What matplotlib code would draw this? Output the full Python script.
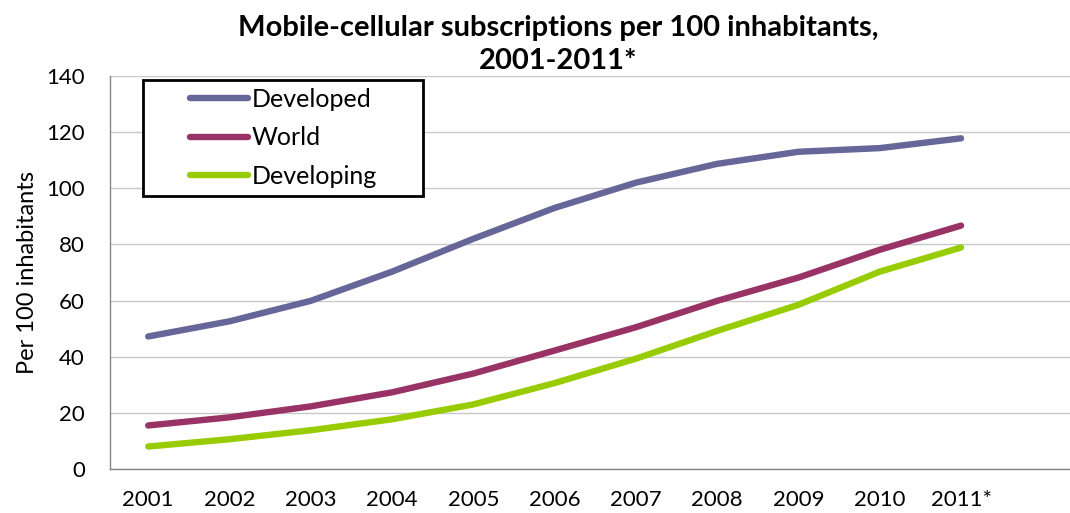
import matplotlib.pyplot as plt
from matplotlib.patches import Rectangle

plt.rcParams['font.family'] = ['Lato', 'DejaVu Sans']

# Mobile-cellular subscriptions per 100 inhabitants
years = ["2001", "2002", "2003", "2004", "2005", "2006",
         "2007", "2008", "2009", "2010", "2011*"]
developed = [47.2, 52.6, 59.9, 70.3, 82.0, 93.0, 102.0, 108.7, 113.0, 114.3, 117.8]
world = [15.5, 18.4, 22.3, 27.3, 34.0, 42.2, 50.5, 59.9, 68.2, 78.1, 86.7]
developing = [8.0, 10.6, 13.8, 17.7, 23.0, 30.6, 39.3, 49.2, 58.5, 70.3, 78.9]

series = [("Developed", developed, "#666699"),
          ("World", world, "#993366"),
          ("Developing", developing, "#99cc00")]

fig = plt.figure(figsize=(10.7, 5.13), dpi=100)
ax = fig.add_axes([0.1028, 0.0858, 0.8972, 0.7661])

x = list(range(len(years)))
lines = []
for name, vals, col in series:
    ln, = ax.plot(x, vals, color=col, lw=4.6, solid_capstyle="round", label=name)
    lines.append(ln)

ax.set_xlim(-0.47, 11.34)
ax.set_ylim(0, 140)
ax.set_yticks(range(0, 141, 20))
ax.set_xticks(x)
ax.set_xticklabels(years)
ax.tick_params(axis="both", length=0, labelsize=16)
ax.tick_params(axis="x", pad=15)
ax.tick_params(axis="y", pad=18)
ax.grid(axis="y", color="#c8c8c8", lw=1)
ax.set_axisbelow(True)
for side in ("top", "right"):
    ax.spines[side].set_visible(False)
for side in ("left", "bottom"):
    ax.spines[side].set_color("#868686")
    ax.spines[side].set_linewidth(1)

ax.set_ylabel("Per 100 inhabitants", fontsize=17, labelpad=6)

fig.text(0.522, 0.97, "Mobile-cellular subscriptions per 100 inhabitants,\n2001-2011*",
         ha="center", va="top", fontsize=21, fontweight="bold", linespacing=1.3)

# legend box with its entries indented like the spreadsheet chart
box = Rectangle((143 / 1070, 1 - 196 / 513), 280 / 1070, 116 / 513,
                transform=fig.transFigure, facecolor="white", edgecolor="black",
                lw=2, zorder=4)
fig.add_artist(box)
leg = fig.legend(handles=lines, loc="center left", bbox_to_anchor=(190 / 1070, 0.731),
                 fontsize=18, handlelength=2.32, handletextpad=0.16, borderpad=0,
                 labelspacing=0.62, frameon=False, borderaxespad=0)
leg.set_zorder(5)
for line in leg.get_lines():
    line.set_linewidth(4.6)

fig.savefig("out.png", dpi=100)
